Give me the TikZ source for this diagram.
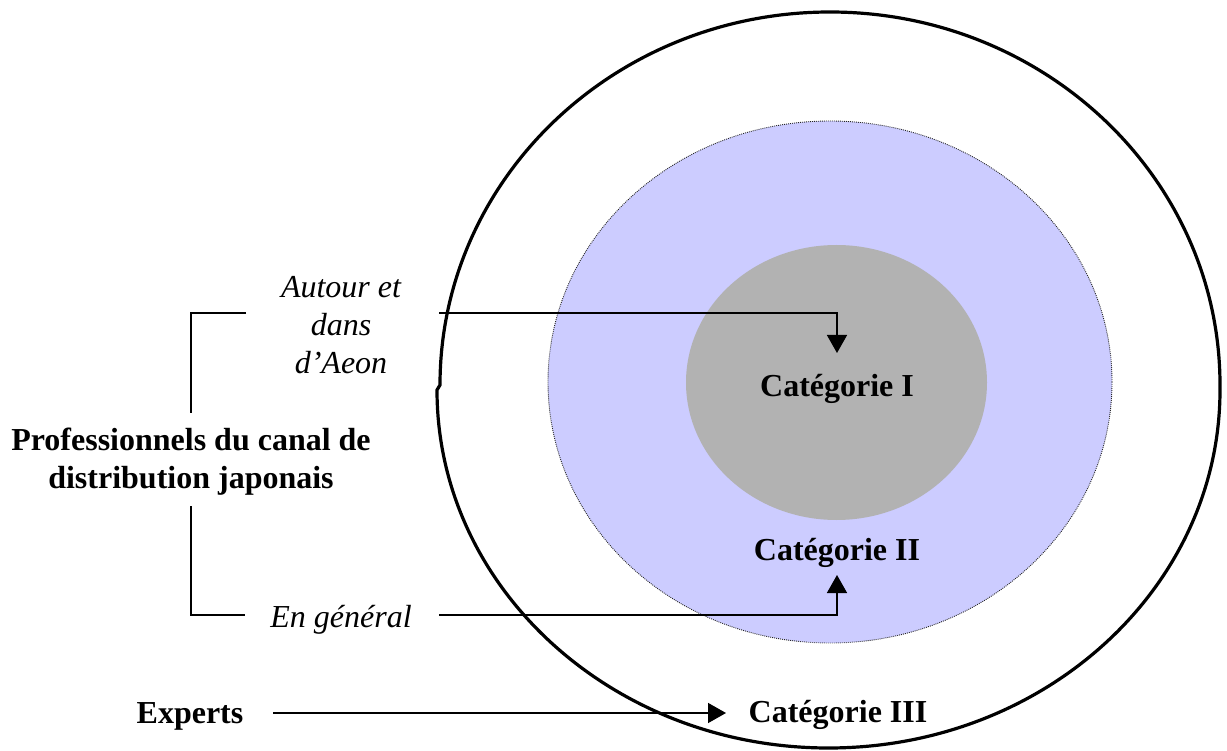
\documentclass[tikz,border=0pt]{standalone}
\usepackage{fontspec}
\setmainfont{Liberation Serif}
\usetikzlibrary{arrows.meta}
\definecolor{lav}{RGB}{204,204,255}
\definecolor{gry}{RGB}{178,178,178}
\begin{document}
\begin{tikzpicture}[x=1pt,y=-1pt,
  conn/.style={line width=1.5pt},
  tipped/.style={-{Triangle[length=18pt,width=20pt]}},
  lab/.style={font=\fontsize{32}{38}\selectfont\bfseries, inner sep=0pt},
  itl/.style={font=\fontsize{32}{38}\selectfont\itshape, inner sep=0pt, align=center},
]
\useasboundingbox (0,0) rectangle (1227,751);
% outer boundary
\draw[line width=3.2pt] (440,385) arc[start angle=180,end angle=360,x radius=390,y radius=373]
  -- (1220,390) arc[start angle=0,end angle=180,x radius=391.5,y radius=358] -- cycle;
% category II zone
\draw[fill=lav, draw=black!85, line width=0.9pt, dash pattern=on 0.9pt off 1.1pt]
  (830,382) ellipse[x radius=282, y radius=261];
% category I zone
\fill[gry] (836.5,382.5) ellipse[x radius=150.5, y radius=137.5];

% labels
\node[lab, anchor=base] (c1) at (837,397) {Catégorie I};
\node[lab, anchor=base] (c2) at (837,560) {Catégorie II};
\node[lab, anchor=base] (c3) at (838,722) {Catégorie III};
\node[lab, anchor=base] (exp) at (190,723) {Experts};
\node[lab, align=center] (prof) at (191,462) {Professionnels du canal de\\distribution japonais};
\node[itl] (aut) at (341,325) {Autour et\\dans\\d’Aeon};
\node[itl, anchor=base] (gen) at (341,627) {En général};

% connectors
\coordinate (a1) at (439,313);
\coordinate (t1) at (837,353);
\draw[conn,tipped] (a1) -| (t1);
\coordinate (a2) at (439,615);
\coordinate (t2) at (837,575);
\draw[conn,tipped] (a2) -| (t2);
\coordinate (e1) at (273,713);
\coordinate (e2) at (726,713);
\draw[conn,tipped] (e1) -- (e2);

% bracket
\coordinate (b1) at (246,313);
\coordinate (b2) at (191,313);
\coordinate (b3) at (191,413);
\coordinate (b4) at (191,506);
\coordinate (b5) at (191,615);
\coordinate (b6) at (245,615);
\draw[conn] (b1) -- (b2) -- (b3);
\draw[conn] (b4) -- (b5) -- (b6);
\end{tikzpicture}
\end{document}
